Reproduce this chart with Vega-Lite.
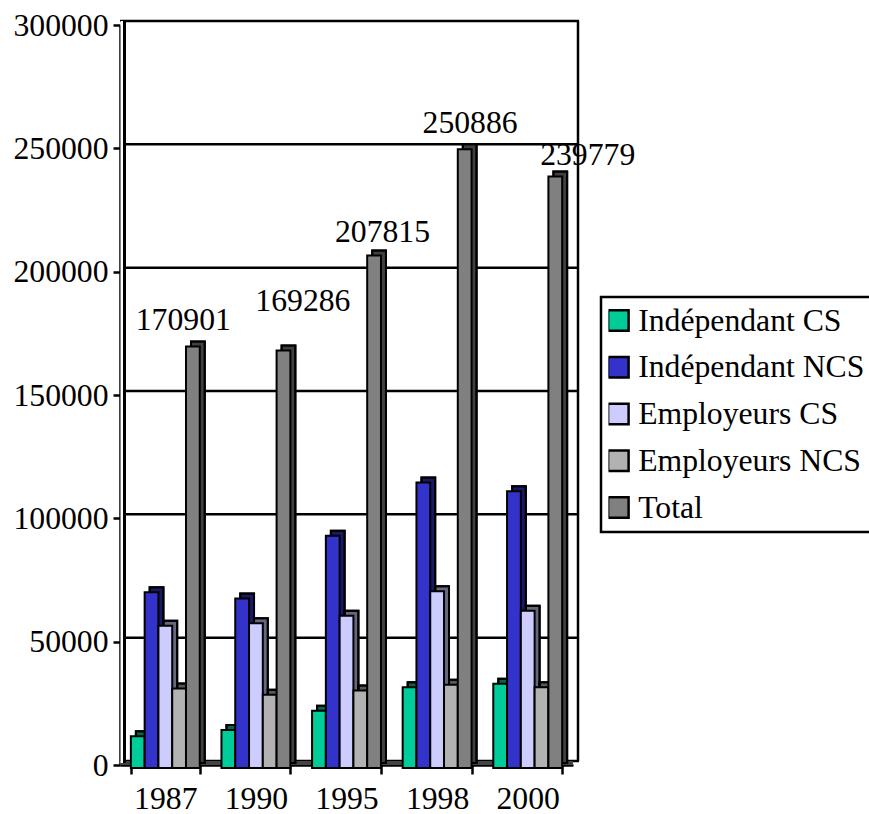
{
"$schema":"https://vega.github.io/schema/vega-lite/v6.json",
"width":453,"height":740,
"autosize":{"type":"none"},
"padding":{"left":120,"top":25,"right":296,"bottom":49},
"background":"white",
"config":{"view":{"stroke":null},"font":"Liberation Serif","legend":{"strokeWidth":2.5}},
"datasets":{"bars":[
{"year":"1987","series":"Indépendant CS","value":12900},
{"year":"1987","series":"Indépendant NCS","value":71200},
{"year":"1987","series":"Employeurs CS","value":57700},
{"year":"1987","series":"Employeurs NCS","value":32200},
{"year":"1987","series":"Total","value":170901},
{"year":"1990","series":"Indépendant CS","value":15400},
{"year":"1990","series":"Indépendant NCS","value":68700},
{"year":"1990","series":"Employeurs CS","value":58700},
{"year":"1990","series":"Employeurs NCS","value":29700},
{"year":"1990","series":"Total","value":169286},
{"year":"1995","series":"Indépendant CS","value":23200},
{"year":"1995","series":"Indépendant NCS","value":94200},
{"year":"1995","series":"Employeurs CS","value":61700},
{"year":"1995","series":"Employeurs NCS","value":31400},
{"year":"1995","series":"Total","value":207815},
{"year":"1998","series":"Indépendant CS","value":32700},
{"year":"1998","series":"Indépendant NCS","value":115700},
{"year":"1998","series":"Employeurs CS","value":71700},
{"year":"1998","series":"Employeurs NCS","value":33700},
{"year":"1998","series":"Total","value":250886},
{"year":"2000","series":"Indépendant CS","value":34200},
{"year":"2000","series":"Indépendant NCS","value":112200},
{"year":"2000","series":"Employeurs CS","value":63700},
{"year":"2000","series":"Employeurs NCS","value":32700},
{"year":"2000","series":"Total","value":239779}
],"grid":[{"g":0},{"g":50000},{"g":100000},{"g":150000},{"g":200000},{"g":250000},{"g":300000}]},
"layer":[
{"data":{"name":"grid"},"mark":{"type":"rule","stroke":"black","strokeWidth":2.5,"xOffset":6,"yOffset":-4},
 "encoding":{"y":{"field":"g","type":"quantitative","scale":{"domain":[0,300000]}}}},
{"data":{"name":"grid"},"transform":[{"filter":"datum.g===0"}],"mark":{"type":"rule","stroke":"#444444","strokeWidth":4,"yOffset":-2},
 "encoding":{"y":{"field":"g","type":"quantitative"}}},
{"data":{"values":[{"w":1}]},"mark":{"type":"rule","stroke":"white","strokeWidth":3,"xOffset":-224.5,"yOffset":-4,"y2Offset":-2},
 "encoding":{"y":{"datum":300000,"type":"quantitative"},"y2":{"datum":0}}},
{"data":{"values":[{"w":1}]},"mark":{"type":"rule","stroke":"black","strokeWidth":3,"xOffset":-222,"yOffset":-4,"y2Offset":-2},
 "encoding":{"y":{"datum":300000,"type":"quantitative"},"y2":{"datum":0}}},
{"data":{"values":[{"w":1}]},"mark":{"type":"rule","stroke":"black","strokeWidth":2.5,"xOffset":231.5,"yOffset":-4,"y2Offset":-4},
 "encoding":{"y":{"datum":300000,"type":"quantitative"},"y2":{"datum":0}}},
{"data":{"name":"bars"},
 "encoding":{
  "x":{"field":"year","type":"nominal","scale":{"paddingInner":0.24,"paddingOuter":0.12},
   "axis":{"title":null,"labelAngle":0,"labelFont":"Liberation Serif","labelFontSize":31.7,"labelColor":"black","labelPadding":9,"domainColor":"black","domainWidth":2.5,"ticks":true,"tickOpacity":1,"tickColor":"black","tickWidth":2.5,"tickSize":9,"tickBand":"extent","tickExtra":true}},
  "y":{"field":"value","type":"quantitative","scale":{"domain":[0,300000]},
   "axis":{"title":null,"values":[0,50000,100000,150000,200000,250000,300000],"format":"d","labelFont":"Liberation Serif","labelFontSize":31.7,"labelColor":"black","labelPadding":5,"domainColor":"black","domainWidth":2.5,"tickColor":"black","tickWidth":2.5,"tickSize":7,"grid":false}},
  "color":{"field":"series","type":"nominal","sort":["Indépendant CS","Indépendant NCS","Employeurs CS","Employeurs NCS","Total"],
   "scale":{"domain":["Indépendant CS","Indépendant NCS","Employeurs CS","Employeurs NCS","Total"],"range":["#00CC99","#3333CC","#CCCCFF","#B2B2B2","#808080"]},
   "legend":{"title":null,"orient":"none","legendX":481,"legendY":272,"symbolType":"square","symbolSize":420,"symbolStrokeColor":"black","symbolStrokeWidth":2.5,"symbolOpacity":1,"symbolOffset":-6,"labelOffset":4,"labelFont":"Liberation Serif","labelFontSize":31.7,"labelColor":"black","labelLimit":300,"rowPadding":13.75,"padding":7.5,"strokeColor":"black","fillColor":"white","clipHeight":32}}
 },
 "layer":[
  {"mark":{"type":"bar","stroke":"black","strokeWidth":2,"yOffset":-2,"y2Offset":-4},
   "encoding":{"xOffset":{"field":"series","sort":["Indépendant CS","Indépendant NCS","Employeurs CS","Employeurs NCS","Total"],"scale":{"paddingInner":0,"paddingOuter":0,"range":[5,73.9]}}}},
  {"mark":{"type":"bar","fill":"black","fillOpacity":0.5,"stroke":"black","strokeWidth":2,"yOffset":-2,"y2Offset":-4},
   "encoding":{"color":{"value":"black"},"xOffset":{"field":"series","sort":["Indépendant CS","Indépendant NCS","Employeurs CS","Employeurs NCS","Total"],"scale":{"paddingInner":0,"paddingOuter":0,"range":[5,73.9]}}}},
  {"mark":{"type":"bar","stroke":"black","strokeWidth":2,"yOffset":3,"y2Offset":-3},
   "encoding":{"xOffset":{"field":"series","sort":["Indépendant CS","Indépendant NCS","Employeurs CS","Employeurs NCS","Total"],"scale":{"paddingInner":0,"paddingOuter":0,"range":[0,68.9]}}}}
 ],
 "resolve":{"scale":{"xOffset":"independent"}}},
{"data":{"name":"bars"},"transform":[{"filter":"datum.series==='Total' && datum.year==='1987'"}],"mark":{"type":"text","font":"Liberation Serif","fontSize":31.7,"color":"black","dx":18,"dy":-23},"encoding":{"x":{"field":"year","type":"nominal"},"y":{"field":"value","type":"quantitative"},"text":{"field":"value","type":"nominal"}}},
{"data":{"name":"bars"},"transform":[{"filter":"datum.series==='Total' && datum.year==='1990'"}],"mark":{"type":"text","font":"Liberation Serif","fontSize":31.7,"dx":47,"dy":-46,"color":"black"},"encoding":{"x":{"field":"year","type":"nominal"},"y":{"field":"value","type":"quantitative"},"text":{"field":"value","type":"nominal"}}},
{"data":{"name":"bars"},"transform":[{"filter":"datum.series==='Total' && datum.year==='1995'"}],"mark":{"type":"text","font":"Liberation Serif","fontSize":31.7,"dx":36,"dy":-20,"color":"black"},"encoding":{"x":{"field":"year","type":"nominal"},"y":{"field":"value","type":"quantitative"},"text":{"field":"value","type":"nominal"}}},
{"data":{"name":"bars"},"transform":[{"filter":"datum.series==='Total' && datum.year==='1998'"}],"mark":{"type":"text","font":"Liberation Serif","fontSize":31.7,"dx":33,"dy":-23,"color":"black"},"encoding":{"x":{"field":"year","type":"nominal"},"y":{"field":"value","type":"quantitative"},"text":{"field":"value","type":"nominal"}}},
{"data":{"name":"bars"},"transform":[{"filter":"datum.series==='Total' && datum.year==='2000'"}],"mark":{"type":"text","font":"Liberation Serif","fontSize":31.7,"dx":60,"dy":-19,"color":"black"},"encoding":{"x":{"field":"year","type":"nominal"},"y":{"field":"value","type":"quantitative"},"text":{"field":"value","type":"nominal"}}}
]
}
